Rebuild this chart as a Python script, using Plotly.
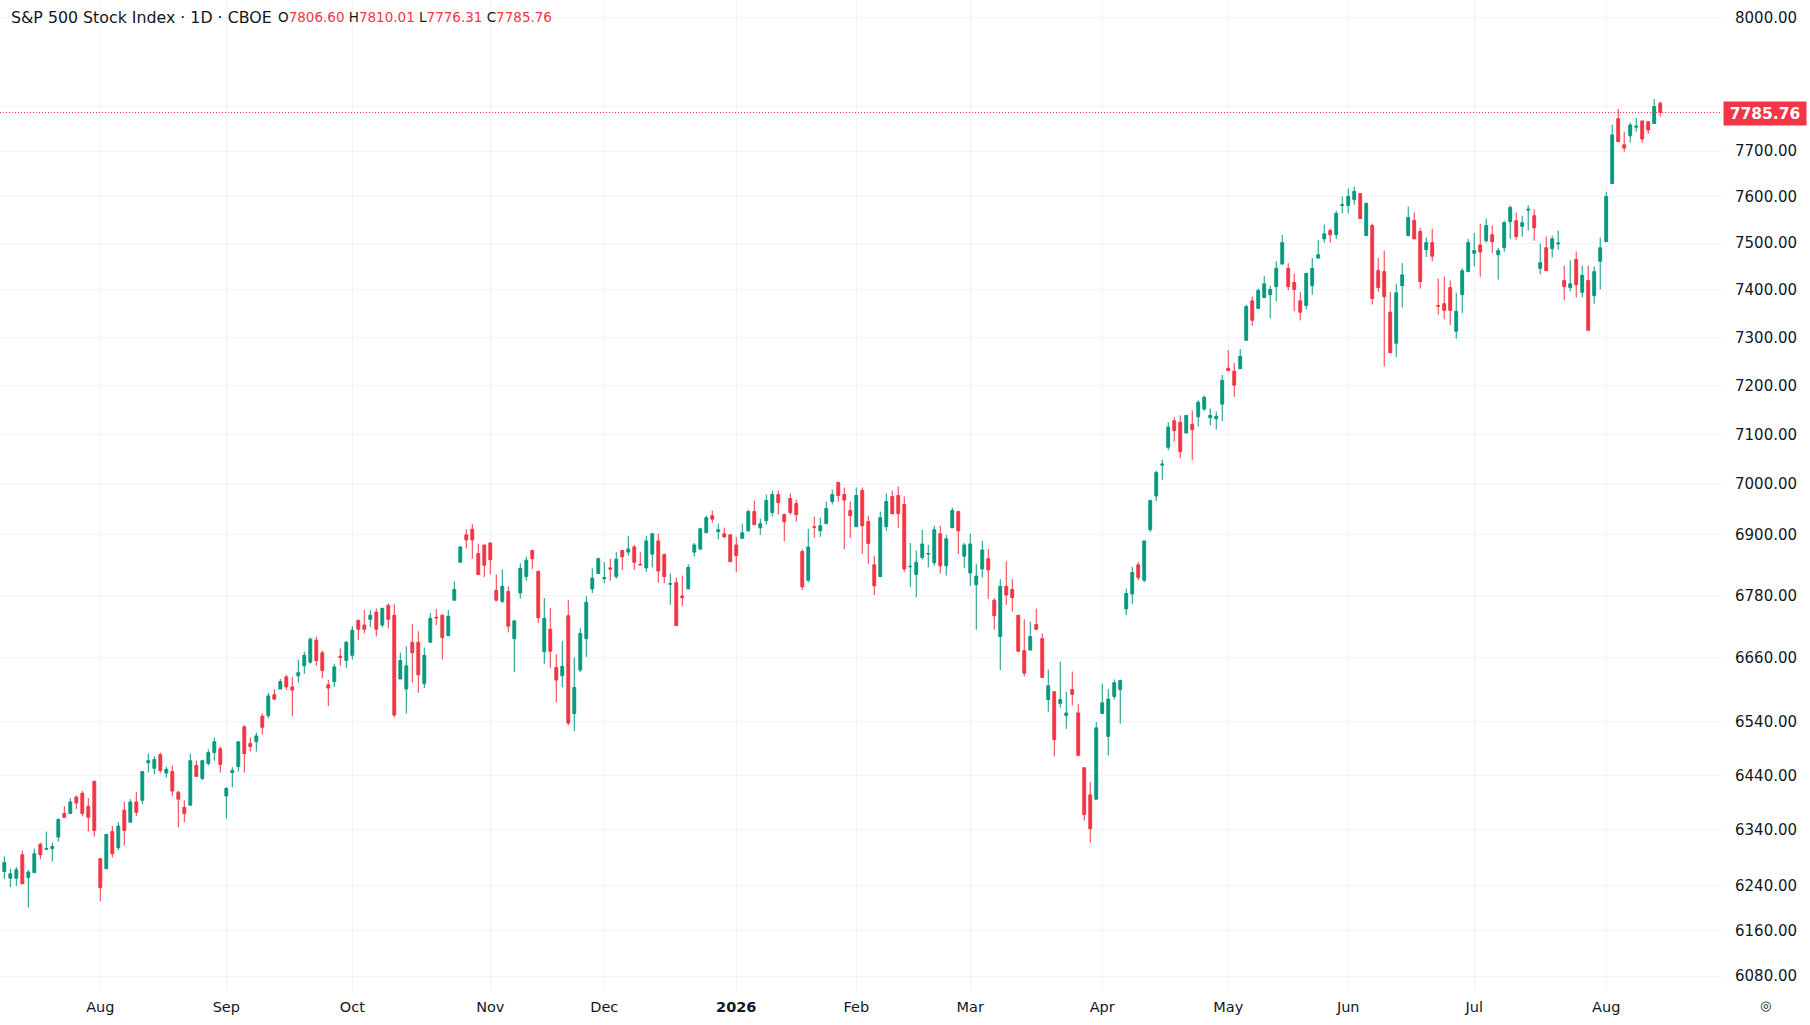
import math
import pandas as pd
import plotly.graph_objects as go

# ---------------- data ----------------
holidays = ["2025-09-01", "2025-11-27", "2025-12-25", "2026-01-01", "2026-01-19",
            "2026-02-16", "2026-04-03", "2026-05-25", "2026-06-19", "2026-07-03"]
dates = [d.strftime("%Y-%m-%d") for d in pd.bdate_range("2025-07-10", "2026-08-14")
         if d.strftime("%Y-%m-%d") not in holidays]

opens = [6265, 6253, 6253, 6295, 6254, 6263, 6314, 6305, 6306, 6327,
         6370, 6370, 6400, 6407, 6383, 6429, 6288, 6270, 6337, 6308,
         6376, 6354, 6391, 6394, 6463, 6453, 6478, 6444, 6447, 6409,
         6381, 6385, 6458, 6434, 6462, 6482, 6489, 6402, 6445, 6456,
         6530, 6499, 6502, 6550, 6551, 6590, 6601, 6624, 6605, 6626,
         6645, 6652, 6694, 6670, 6609, 6615, 6663, 6655, 6665, 6732,
         6723, 6734, 6748, 6723, 6761, 6742, 6620, 6601, 6690, 6690,
         6611, 6690, 6738, 6742, 6703, 6771, 6845, 6899, 6910, 6862,
         6879, 6883, 6790, 6769, 6788, 6697, 6785, 6817, 6868, 6827,
         6672, 6715, 6642, 6626, 6741, 6555, 6637, 6697, 6793, 6823,
         6813, 6834, 6817, 6868, 6865, 6875, 6841, 6834, 6861, 6887,
         6860, 6802, 6805, 6779, 6793, 6865, 6871, 6903, 6937, 6905,
         6901, 6899, 6879, 6892, 6907, 6945, 6913, 6927, 6943, 6979,
         6939, 6971, 6961, 6866, 6810, 6915, 6907, 6921, 6965, 7003,
         6979, 6947, 6915, 6987, 6925, 6840, 6817, 6915, 6975, 6977,
         6959, 6836, 6821, 6854, 6861, 6844, 6901, 6838, 6913, 6945,
         6857, 6824, 6801, 6832, 6852, 6771, 6701, 6798, 6792, 6742,
         6674, 6675, 6724, 6697, 6581, 6596, 6574, 6551, 6600, 6556,
         6454, 6404, 6396, 6555, 6512, 6587, 6600, 6754, 6783, 6840,
         6810, 6909, 6976, 7038, 7074, 7128, 7125, 7103, 7121, 7136,
         7152, 7134, 7132, 7162, 7236, 7230, 7235, 7294, 7377, 7361,
         7384, 7390, 7407, 7455, 7446, 7416, 7377, 7367, 7409, 7468,
         7509, 7527, 7518, 7581, 7581, 7594, 7607, 7516, 7538, 7441,
         7439, 7353, 7288, 7409, 7516, 7549, 7525, 7486, 7501, 7367,
         7371, 7405, 7313, 7390, 7439, 7478, 7496, 7505, 7518, 7475,
         7490, 7546, 7548, 7536, 7571, 7559, 7446, 7490, 7488, 7498,
         7420, 7405, 7465, 7395, 7420, 7388, 7461, 7503, 7629, 7772,
         7714, 7734, 7753, 7767, 7765, 7761, 7806.60]

highs = [6292, 6270, 6273, 6303, 6268, 6306, 6317, 6337, 6317, 6361,
         6383, 6398, 6403, 6411, 6398, 6429, 6288, 6332, 6347, 6354,
         6391, 6396, 6409, 6447, 6480, 6475, 6482, 6456, 6458, 6411,
         6394, 6480, 6467, 6469, 6488, 6510, 6493, 6418, 6455, 6502,
         6533, 6510, 6519, 6555, 6594, 6601, 6620, 6628, 6624, 6657,
         6672, 6699, 6701, 6674, 6618, 6649, 6678, 6692, 6721, 6734,
         6752, 6752, 6755, 6757, 6765, 6763, 6670, 6682, 6725, 6711,
         6680, 6746, 6754, 6744, 6752, 6808, 6877, 6910, 6920, 6881,
         6879, 6883, 6821, 6831, 6798, 6733, 6843, 6856, 6870, 6829,
         6775, 6756, 6667, 6692, 6771, 6661, 6717, 6779, 6833, 6854,
         6845, 6852, 6865, 6868, 6897, 6879, 6865, 6897, 6903, 6901,
         6862, 6823, 6815, 6819, 6841, 6883, 6913, 6937, 6947, 6921,
         6913, 6899, 6895, 6921, 6949, 6967, 6931, 6979, 6987, 6987,
         6941, 6981, 6969, 6871, 6911, 6935, 6933, 6965, 6989, 7003,
         6993, 6965, 6993, 6993, 6937, 6858, 6945, 6981, 6987, 6995,
         6975, 6883, 6868, 6909, 6879, 6917, 6917, 6899, 6953, 6947,
         6883, 6901, 6842, 6887, 6871, 6775, 6812, 6847, 6812, 6742,
         6734, 6730, 6755, 6707, 6638, 6596, 6653, 6596, 6634, 6573,
         6454, 6428, 6539, 6611, 6601, 6619, 6619, 6794, 6836, 6846,
         6887, 6969, 7027, 7049, 7125, 7135, 7139, 7139, 7149, 7170,
         7180, 7153, 7147, 7222, 7274, 7247, 7276, 7369, 7386, 7403,
         7430, 7409, 7461, 7518, 7457, 7435, 7396, 7437, 7468, 7507,
         7540, 7531, 7570, 7601, 7618, 7622, 7607, 7586, 7542, 7468,
         7484, 7396, 7413, 7457, 7579, 7566, 7533, 7512, 7531, 7424,
         7428, 7420, 7394, 7446, 7509, 7522, 7541, 7553, 7538, 7490,
         7548, 7581, 7566, 7559, 7582, 7573, 7499, 7514, 7516, 7527,
         7452, 7463, 7482, 7452, 7452, 7450, 7512, 7611, 7758, 7794,
         7743, 7763, 7774, 7767, 7767, 7816, 7810.01]

lows = [6252, 6237, 6239, 6243, 6201, 6263, 6287, 6304, 6283, 6319,
        6363, 6370, 6378, 6365, 6337, 6328, 6212, 6270, 6290, 6303,
        6312, 6354, 6365, 6387, 6445, 6442, 6444, 6436, 6402, 6345,
        6354, 6385, 6438, 6431, 6458, 6467, 6445, 6361, 6418, 6447,
        6445, 6484, 6484, 6516, 6546, 6580, 6601, 6599, 6550, 6613,
        6630, 6649, 6645, 6622, 6569, 6605, 6645, 6641, 6657, 6694,
        6707, 6719, 6701, 6719, 6717, 6548, 6620, 6555, 6613, 6594,
        6603, 6690, 6723, 6657, 6701, 6771, 6845, 6872, 6852, 6821,
        6816, 6821, 6769, 6765, 6709, 6633, 6774, 6809, 6832, 6727,
        6649, 6641, 6576, 6604, 6533, 6522, 6633, 6662, 6785, 6823,
        6804, 6809, 6813, 6830, 6858, 6830, 6839, 6826, 6835, 6805,
        6804, 6762, 6721, 6760, 6793, 6856, 6869, 6903, 6923, 6890,
        6893, 6846, 6826, 6892, 6905, 6919, 6899, 6919, 6935, 6939,
        6886, 6939, 6925, 6791, 6806, 6893, 6895, 6921, 6959, 6965,
        6871, 6893, 6915, 6862, 6842, 6781, 6817, 6907, 6939, 6913,
        6826, 6797, 6777, 6850, 6835, 6838, 6823, 6819, 6913, 6861,
        6834, 6799, 6714, 6815, 6774, 6714, 6637, 6762, 6749, 6671,
        6625, 6675, 6713, 6623, 6558, 6475, 6566, 6526, 6570, 6475,
        6357, 6317, 6396, 6555, 6477, 6581, 6536, 6742, 6763, 6810,
        6806, 6905, 6966, 7008, 7068, 7086, 7052, 7103, 7048, 7116,
        7148, 7118, 7110, 7127, 7231, 7177, 7235, 7294, 7324, 7361,
        7384, 7340, 7376, 7455, 7399, 7355, 7336, 7359, 7390, 7466,
        7501, 7501, 7509, 7564, 7564, 7583, 7553, 7516, 7369, 7396,
        7240, 7268, 7259, 7363, 7516, 7509, 7403, 7470, 7461, 7348,
        7338, 7326, 7297, 7351, 7439, 7450, 7428, 7501, 7479, 7422,
        7481, 7509, 7507, 7514, 7527, 7505, 7433, 7441, 7469, 7486,
        7378, 7397, 7384, 7384, 7315, 7371, 7401, 7503, 7629, 7721,
        7699, 7719, 7743, 7719, 7738, 7761, 7776.31]

closes = [6281, 6261, 6268, 6243, 6264, 6297, 6295, 6306, 6310, 6359,
          6363, 6391, 6389, 6370, 6363, 6339, 6236, 6332, 6297, 6347,
          6339, 6391, 6372, 6447, 6467, 6469, 6449, 6451, 6411, 6396,
          6370, 6467, 6438, 6467, 6482, 6502, 6460, 6416, 6449, 6502,
          6480, 6493, 6513, 6529, 6588, 6582, 6615, 6605, 6599, 6632,
          6665, 6696, 6655, 6636, 6603, 6643, 6661, 6690, 6713, 6715,
          6715, 6742, 6715, 6755, 6734, 6552, 6655, 6645, 6670, 6628,
          6665, 6736, 6737, 6699, 6740, 6792, 6875, 6889, 6889, 6821,
          6839, 6850, 6771, 6798, 6721, 6731, 6833, 6849, 6852, 6737,
          6736, 6673, 6618, 6644, 6537, 6604, 6707, 6767, 6814, 6852,
          6815, 6832, 6851, 6856, 6871, 6845, 6840, 6887, 6901, 6828,
          6817, 6803, 6722, 6776, 6835, 6879, 6911, 6933, 6930, 6909,
          6895, 6846, 6858, 6903, 6945, 6919, 6921, 6967, 6979, 6963,
          6925, 6943, 6939, 6797, 6875, 6914, 6917, 6951, 6979, 6977,
          6968, 6937, 6977, 6917, 6882, 6799, 6933, 6965, 6941, 6941,
          6832, 6837, 6845, 6881, 6862, 6909, 6838, 6891, 6947, 6907,
          6879, 6881, 6818, 6869, 6830, 6741, 6798, 6781, 6776, 6673,
          6631, 6701, 6715, 6623, 6607, 6506, 6581, 6556, 6591, 6477,
          6368, 6342, 6528, 6575, 6582, 6613, 6617, 6784, 6825, 6815,
          6887, 6967, 7023, 7040, 7115, 7108, 7065, 7139, 7110, 7166,
          7176, 7139, 7137, 7211, 7231, 7201, 7261, 7365, 7336, 7399,
          7413, 7401, 7446, 7501, 7407, 7401, 7353, 7435, 7446, 7475,
          7520, 7518, 7564, 7583, 7601, 7612, 7553, 7586, 7382, 7405,
          7386, 7268, 7394, 7432, 7555, 7509, 7418, 7501, 7472, 7366,
          7357, 7357, 7355, 7441, 7501, 7484, 7481, 7538, 7503, 7484,
          7544, 7577, 7514, 7544, 7573, 7533, 7458, 7441, 7509, 7500,
          7407, 7413, 7411, 7431, 7315, 7439, 7490, 7601, 7736, 7721,
          7707, 7758, 7755, 7727, 7747, 7799, 7785.76]

month_ticks = ["2025-08-01", "2025-09-02", "2025-10-01", "2025-11-03", "2025-12-01",
               "2026-01-02", "2026-02-02", "2026-03-02", "2026-04-01", "2026-05-01",
               "2026-06-01", "2026-07-01", "2026-08-03"]
month_labels = ["Aug", "Sep", "Oct", "Nov", "Dec", "<b>2026</b>", "Feb", "Mar", "Apr",
                "May", "Jun", "Jul", "Aug"]

price_ticks = [6080, 6160, 6240, 6340, 6440, 6540, 6660, 6780, 6900, 7000,
               7100, 7200, 7300, 7400, 7500, 7600, 7700, 7800, 8000]
price_labels = ["6080.00", "6160.00", "6240.00", "6340.00", "6440.00", "6540.00",
                "6660.00", "6780.00", "6900.00", "7000.00", "7100.00", "7200.00",
                "7300.00", "7400.00", "7500.00", "7600.00", "7700.00", "", "8000.00"]

title_text = "S&P 500 Stock Index · 1D · CBOE"

# ---------------- style ----------------
UP = "#089981"
DOWN = "#F23645"
TXT = "#131722"
GRID = "#F0F3FA"
FONT = "DejaVu Sans"

W, H = 1810, 1025
ML, MR, MT, MB = 0, 88, 0, 35
Y_MIN, Y_MAX = 6056, 8040.6
X_MIN, X_MAX = -0.72, 286.3

fig = go.Figure(go.Candlestick(
    x=dates, open=opens, high=highs, low=lows, close=closes,
    increasing=dict(line=dict(color=UP, width=1), fillcolor=UP),
    decreasing=dict(line=dict(color=DOWN, width=1), fillcolor=DOWN),
    whiskerwidth=0, hoverinfo="skip", showlegend=False,
))

last_close = closes[-1]
lo, hi = math.log10(Y_MIN), math.log10(Y_MAX)
y_last = (math.log10(last_close) - lo) / (hi - lo)

fig.update_layout(
    width=W, height=H,
    margin=dict(l=ML, r=MR, t=MT, b=MB, pad=0),
    paper_bgcolor="white", plot_bgcolor="white",
    font=dict(family=FONT, color=TXT, size=14),
    boxgap=0.32,
    showlegend=False,
    hovermode=False,
    xaxis=dict(
        type="category", range=[X_MIN, X_MAX],
        tickmode="array", tickvals=month_ticks, ticktext=month_labels,
        showgrid=True, gridcolor=GRID, gridwidth=1,
        ticks="outside", ticklen=4, tickcolor="rgba(0,0,0,0)",
        tickfont=dict(family=FONT, size=14.5, color=TXT),
        showline=False, zeroline=False,
        rangeslider=dict(visible=False),
        fixedrange=True,
    ),
    yaxis=dict(
        type="log", range=[lo, hi], side="right",
        tickmode="array", tickvals=price_ticks, ticktext=price_labels,
        showgrid=True, gridcolor=GRID, gridwidth=1,
        ticks="outside", ticklen=9, tickcolor="rgba(0,0,0,0)",
        tickfont=dict(family=FONT, size=15, color=TXT),
        showline=False, zeroline=False,
        fixedrange=True,
    ),
)

plot_w = W - ML - MR
plot_h = H - MT - MB

# last price dotted line
fig.add_shape(type="line", xref="paper", yref="paper", x0=0, x1=1,
              y0=y_last, y1=y_last, line=dict(color=DOWN, width=1, dash="1px,2px"))

# price label box on the axis
fig.add_annotation(xref="paper", yref="paper", x=1, y=y_last, xanchor="left",
                   yanchor="middle", xshift=1, yshift=-1, text=f"<b>{last_close:.2f}</b>",
                   showarrow=False, bgcolor=DOWN, width=82, height=23, borderpad=0,
                   font=dict(family=FONT, size=15.5, color="white"), align="center")

# title / legend line
fig.add_annotation(xref="paper", yref="paper", x=9 / plot_w, y=1 - 17 / plot_h,
                   xanchor="left", yanchor="middle", showarrow=False,
                   text=title_text, font=dict(family=FONT, size=15.8, color=TXT))

ohlc = (f"O<span style='color:{DOWN}'>{opens[-1]:.2f}</span> "
        f"H<span style='color:{DOWN}'>{highs[-1]:.2f}</span> "
        f"L<span style='color:{DOWN}'>{lows[-1]:.2f}</span> "
        f"C<span style='color:{DOWN}'>{closes[-1]:.2f}</span>")
fig.add_annotation(xref="paper", yref="paper", x=276 / plot_w, y=1 - 17 / plot_h,
                   xanchor="left", yanchor="middle", showarrow=False,
                   text=ohlc, font=dict(family=FONT, size=13.5, color=TXT))

# small settings icon at bottom right
fig.add_annotation(xref="paper", yref="paper", x=1, y=0, xanchor="left", yanchor="top",
                   xshift=36, yshift=-6, showarrow=False, text="◎",
                   font=dict(family=FONT, size=13, color=TXT))

fig.write_html(
    "out.html",
    config={"displayModeBar": False},
    post_script="document.body.style.margin='0px';document.body.style.overflow='hidden';",
)
